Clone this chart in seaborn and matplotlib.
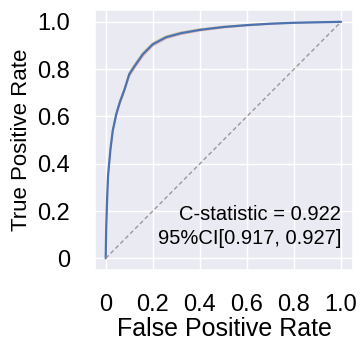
import matplotlib
matplotlib.use("Agg")
import matplotlib.pyplot as plt
import pandas as pd
import seaborn as sns

# ROC curve
fpr = [0, 0.002, 0.006, 0.01, 0.02, 0.03, 0.045, 0.06, 0.08, 0.10, 0.123,
       0.158, 0.2, 0.257, 0.32, 0.4, 0.5, 0.6, 0.7, 0.8, 0.9, 1.0]
tpr = [0, 0.12, 0.25, 0.35, 0.46, 0.54, 0.61, 0.66, 0.714, 0.778, 0.813,
       0.863, 0.905, 0.935, 0.952, 0.966, 0.978, 0.986, 0.992, 0.996, 0.998, 1.0]
tpr_low = [0, 0.11, 0.24, 0.34, 0.45, 0.53, 0.60, 0.65, 0.704, 0.768, 0.803,
           0.853, 0.897, 0.928, 0.946, 0.961, 0.974, 0.983, 0.990, 0.995, 0.997, 1.0]
tpr_high = [0, 0.13, 0.26, 0.36, 0.47, 0.55, 0.62, 0.67, 0.724, 0.788, 0.823,
            0.873, 0.913, 0.942, 0.958, 0.971, 0.982, 0.989, 0.994, 0.997, 0.999, 1.0]
ticks = [0, 0.2, 0.4, 0.6, 0.8, 1.0]
tick_labels = ["0", "0.2", "0.4", "0.6", "0.8", "1.0"]
c_stat = "C-statistic = 0.922"
ci_text = "95%CI[0.917, 0.927]"

sns.set_theme(style="darkgrid")
plt.rcParams['font.family'] = ['Liberation Sans', 'DejaVu Sans']
plt.rcParams['text.color'] = 'black'
plt.rcParams['axes.labelcolor'] = 'black'
plt.rcParams['xtick.color'] = 'black'
plt.rcParams['ytick.color'] = 'black'

fig = plt.figure(figsize=(3.63, 3.45), dpi=100)
ax = fig.add_axes([0.262, 0.217, 0.710, 0.754])

roc = pd.DataFrame({"fpr": fpr, "tpr": tpr})
ax.fill_between(fpr, tpr_low, tpr_high, color="#dd8452", alpha=0.2, linewidth=0)
ax.plot(fpr, tpr_low, color="#e8a0a0", linewidth=0.6, alpha=0.6)
ax.plot(fpr, tpr_high, color="#c9b060", linewidth=0.6, alpha=0.6)
sns.lineplot(data=roc, x="fpr", y="tpr", ax=ax, color="#4c72b0", linewidth=1.6,
             estimator=None, sort=False)
ax.plot([0, 1], [0, 1], linestyle=(0, (3, 2)), color="#999999", linewidth=1)

ax.set_xlim(-0.045, 1.05)
ax.set_ylim(-0.05, 1.05)
ax.set_xticks(ticks)
ax.set_xticklabels(tick_labels)
ax.set_yticks(ticks)
ax.set_yticklabels(tick_labels)
ax.tick_params(axis="x", labelsize=17, pad=11)
ax.tick_params(axis="y", labelsize=17, pad=12)
ax.set_xlabel("False Positive Rate", fontsize=18, labelpad=1)
ax.set_ylabel("True Positive Rate", fontsize=16)

ax.text(1.0, 0.184, c_stat, ha="right", va="center", fontsize=14.5)
ax.text(1.0, 0.085, ci_text, ha="right", va="center", fontsize=14.5)

fig.savefig("out.png", dpi=100)
